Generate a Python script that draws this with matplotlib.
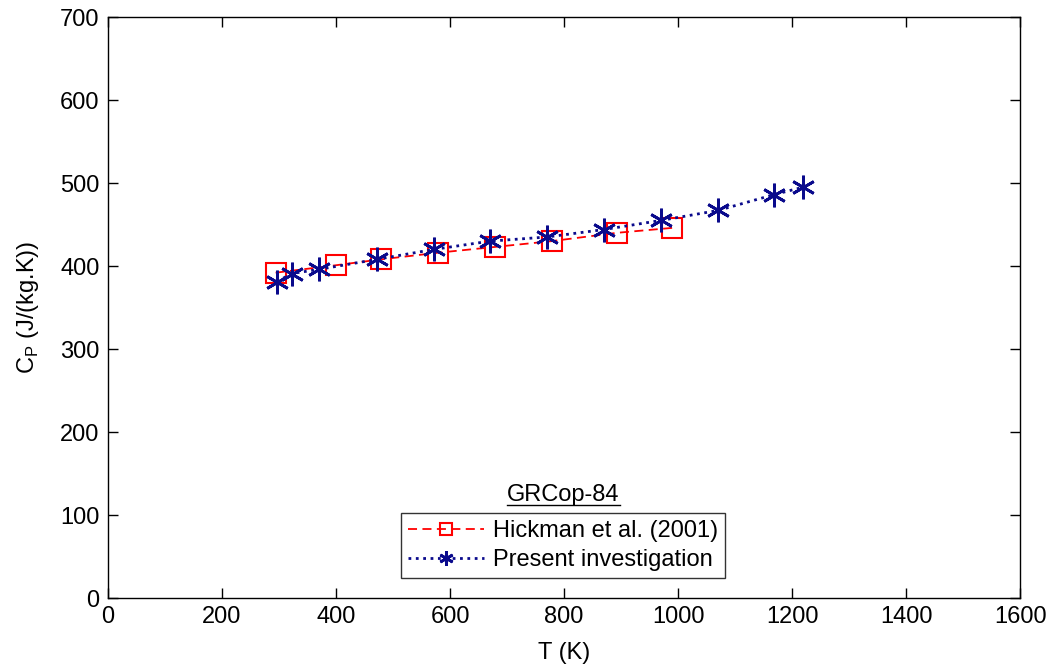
import numpy as np
import matplotlib.pyplot as plt

plt.rcParams['font.family'] = ['Liberation Sans', 'DejaVu Sans']

# Hickman et al. (2001)
hick_T = [294, 400, 478, 578, 678, 778, 892, 990]
hick_cp = [392, 401, 408, 416, 423, 430, 440, 446]

# Present investigation
pres_T = [296, 322, 370, 471, 571, 670, 770, 870, 970, 1070, 1168, 1219]
pres_cp = [381, 391, 396, 408, 420, 430, 435, 444, 455, 467, 486, 495]

x_ticks = np.arange(0, 1601, 200)
y_ticks = np.arange(0, 701, 100)

fig = plt.figure(figsize=(10.47, 6.66), dpi=100)
ax = fig.add_axes([0.1032, 0.102, 0.8711, 0.8724])

ax.plot(hick_T, hick_cp, color='red', linestyle=(0, (5, 3)), linewidth=1.3,
        marker='s', markersize=15, markerfacecolor='none',
        markeredgecolor='red', markeredgewidth=1.5,
        label='Hickman et al. (2001)')
ax.plot(pres_T, pres_cp, color='#0a0a8c', linestyle=':', linewidth=2,
        marker=(6, 2, 0), markersize=17, markeredgewidth=2,
        label='Present investigation')

ax.set_xlim(0, 1600)
ax.set_ylim(0, 700)
ax.set_xticks(x_ticks)
ax.set_yticks(y_ticks)
ax.tick_params(direction='in', length=7, width=1, labelsize=17,
               top=True, right=True, pad=6)
for s in ax.spines.values():
    s.set_linewidth(1)

ax.set_xlabel('T (K)', fontsize=17, labelpad=10)
ax.set_ylabel(r'C$_\mathregular{P}$ (J/(kg.K))', fontsize=17, labelpad=14)

leg = ax.legend(loc='lower center', bbox_to_anchor=(0.499, 0.034),
                fontsize=17, frameon=True, fancybox=False, edgecolor='black',
                handlelength=3.2, borderpad=0.3, labelspacing=0.3,
                handletextpad=0.4, borderaxespad=0, markerscale=0.6)
leg.get_frame().set_linewidth(1)

ax.text(0.499, 0.167, 'GRCop-84', transform=ax.transAxes, ha='center',
        va='baseline', fontsize=17)
ax.plot([0.437, 0.561], [0.160, 0.160], transform=ax.transAxes,
        color='black', linewidth=1, clip_on=False)

fig.savefig('out.png', dpi=100)
